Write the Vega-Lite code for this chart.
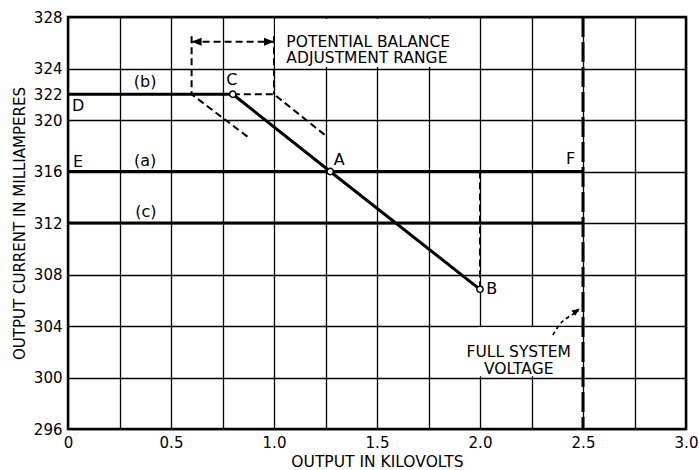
{
  "$schema": "https://vega.github.io/schema/vega-lite/v6.json",
  "width": 618,
  "height": 412,
  "autosize": {"type": "none"},
  "padding": {"left": 68, "top": 17, "right": 13, "bottom": 41},
  "background": "white",
  "config": {
    "view": {"stroke": "black", "strokeWidth": 2.5},
    "font": "DejaVu Sans"
  },
  "datasets": {
    "boxes": [
      {"x": 1.005, "x2": 1.995, "y": 324.12, "y2": 327.85},
      {"x": 1.99, "x2": 2.49, "y": 300.1, "y2": 303.9}
    ],
    "heavy": [
      {"id": "b", "x": 0, "y": 322}, {"id": "b", "x": 0.8, "y": 322},
      {"id": "a", "x": 0, "y": 316}, {"id": "a", "x": 2.5, "y": 316},
      {"id": "c", "x": 0, "y": 312}, {"id": "c", "x": 2.5, "y": 312},
      {"id": "cab", "x": 0.8, "y": 322}, {"id": "cab", "x": 1.273, "y": 316}, {"id": "cab", "x": 2.0, "y": 306.85}
    ],
    "dashed": [
      {"id": "d1", "o": 1, "x": 0.6, "y": 326.5}, {"id": "d1", "o": 2, "x": 0.6, "y": 322}, {"id": "d1", "o": 3, "x": 0.88, "y": 318.6},
      {"id": "d2", "o": 1, "x": 0.8, "y": 322}, {"id": "d2", "o": 2, "x": 1.0, "y": 322}, {"id": "d2", "o": 3, "x": 1.25, "y": 318.8},
      {"id": "d3", "o": 1, "x": 1.0, "y": 326.5}, {"id": "d3", "o": 2, "x": 1.0, "y": 322},
      {"id": "d4", "o": 1, "x": 2.0, "y": 316}, {"id": "d4", "o": 2, "x": 2.0, "y": 306.85},
      {"id": "arr", "o": 1, "x": 0.6, "y": 326.08}, {"id": "arr", "o": 2, "x": 1.0, "y": 326.08}
    ],
    "curve": [
      {"o": 1, "x": 2.354, "y": 303.3}, {"o": 2, "x": 2.40, "y": 304.35}, {"o": 3, "x": 2.478, "y": 305.15}
    ],
    "fullsys": [
      {"o": 1, "x": 2.5, "y": 328}, {"o": 2, "x": 2.5, "y": 296}
    ],
    "heads": [
      {"dir": "L", "x": 0.6, "y": 326.08},
      {"dir": "R", "x": 1.0, "y": 326.08}
    ],
    "curvehead": [
      {"x": 2.485, "y": 305.35}
    ],
    "pts": [
      {"x": 0.8, "y": 322}, {"x": 1.273, "y": 316}, {"x": 2.0, "y": 306.85}
    ],
    "labels": [
      {"t": "(b)", "x": 0.374, "y": 322.95},
      {"t": "(a)", "x": 0.374, "y": 316.8},
      {"t": "(c)", "x": 0.378, "y": 312.88},
      {"t": "D", "x": 0.049, "y": 321.09},
      {"t": "E", "x": 0.049, "y": 316.71},
      {"t": "C", "x": 0.795, "y": 323.1},
      {"t": "A", "x": 1.316, "y": 316.9},
      {"t": "B", "x": 2.057, "y": 306.85},
      {"t": "F", "x": 2.44, "y": 316.97}
    ],
    "notes": [
      {"t": "FULL SYSTEM\nVOLTAGE", "x": 2.188, "y": 301.95}
    ],
    "notesLeft": [
      {"t": "POTENTIAL BALANCE\nADJUSTMENT RANGE", "x": 1.06, "y": 326.08}
    ]
  },
  "encoding": {
    "x": {
      "field": "x", "type": "quantitative",
      "scale": {"domain": [0, 3], "nice": false, "zero": false},
      "axis": {
        "title": "OUTPUT IN KILOVOLTS",
        "values": [0, 0.25, 0.5, 0.75, 1, 1.25, 1.5, 1.75, 2, 2.25, 2.5, 2.75, 3],
        "labelExpr": "datum.value % 0.5 === 0 ? (datum.value === 0 ? '0' : format(datum.value, '.1f')) : ''",
        "grid": true, "gridColor": "black", "gridWidth": 1.3, "gridOpacity": 1,
        "domain": false, "ticks": false,
        "labelFlush": false, "labelBound": false, "labelOverlap": false,
        "labelPadding": 6, "labelFont": "DejaVu Sans", "labelFontSize": 15, "labelColor": "black",
        "titleFont": "DejaVu Sans", "titleFontSize": 15.5, "titleFontWeight": "normal", "titleColor": "black",
        "titlePadding": 4
      }
    },
    "y": {
      "field": "y", "type": "quantitative",
      "scale": {"domain": [296, 328], "nice": false, "zero": false},
      "axis": {
        "title": "OUTPUT CURRENT IN MILLIAMPERES",
        "values": [296, 300, 304, 308, 312, 316, 320, 322, 324, 328],
        "grid": true, "gridColor": "black", "gridWidth": 1.3,
        "gridOpacity": {"condition": {"test": "datum.value === 322", "value": 0}, "value": 1},
        "domain": false, "ticks": false,
        "labelFlush": false, "labelBound": false, "labelOverlap": false,
        "labelPadding": 6, "labelFont": "DejaVu Sans", "labelFontSize": 15, "labelColor": "black",
        "titleFont": "DejaVu Sans", "titleFontSize": 15, "titleFontWeight": "normal", "titleColor": "black",
        "titlePadding": 6
      }
    }
  },
  "layer": [
    {
      "data": {"name": "boxes"},
      "mark": {"type": "rect", "fill": "white", "stroke": null},
      "encoding": {"x2": {"field": "x2"}, "y2": {"field": "y2"}}
    },
    {
      "data": {"name": "heavy"},
      "mark": {"type": "line", "color": "black", "strokeWidth": 3},
      "encoding": {"detail": {"field": "id"}}
    },
    {
      "data": {"name": "dashed"},
      "mark": {"type": "line", "color": "black", "strokeWidth": 2, "strokeDash": [7, 4]},
      "encoding": {"detail": {"field": "id"}, "order": {"field": "o"}}
    },
    {
      "data": {"name": "curve"},
      "mark": {"type": "line", "color": "black", "strokeWidth": 1.6, "strokeDash": [4, 3], "interpolate": "cardinal"},
      "encoding": {"order": {"field": "o"}}
    },
    {
      "data": {"name": "fullsys"},
      "mark": {"type": "line", "color": "black", "strokeWidth": 3, "strokeDash": [20, 5]},
      "encoding": {"order": {"field": "o"}}
    },
    {
      "data": {"name": "heads"},
      "mark": {"type": "point", "filled": true, "color": "black", "size": 25, "opacity": 1},
      "encoding": {
        "shape": {"field": "dir", "type": "nominal", "legend": null,
          "scale": {"domain": ["L", "R"], "range": ["M0,0L4,-1.6L4,1.6Z", "M0,0L-4,-1.6L-4,1.6Z"]}}
      }
    },
    {
      "data": {"name": "curvehead"},
      "mark": {"type": "point", "filled": true, "color": "black", "size": 16, "opacity": 1, "shape": "M0,0L-4,-1.6L-4,1.6Z", "angle": 325}
    },
    {
      "data": {"name": "pts"},
      "mark": {"type": "point", "filled": true, "fill": "white", "stroke": "black", "strokeWidth": 1.5, "size": 40, "opacity": 1}
    },
    {
      "data": {"name": "labels"},
      "mark": {"type": "text", "font": "DejaVu Sans", "fontSize": 16, "color": "black", "align": "center", "baseline": "middle"},
      "encoding": {"text": {"field": "t"}}
    },
    {
      "data": {"name": "notes"},
      "mark": {"type": "text", "font": "DejaVu Sans", "fontSize": 15.5, "color": "black", "align": "center", "baseline": "middle", "lineBreak": "\n", "lineHeight": 16.5},
      "encoding": {"text": {"field": "t"}}
    },
    {
      "data": {"name": "notesLeft"},
      "mark": {"type": "text", "font": "DejaVu Sans", "fontSize": 15.5, "color": "black", "align": "left", "baseline": "middle", "lineBreak": "\n", "lineHeight": 16.5},
      "encoding": {"text": {"field": "t"}}
    }
  ]
}
